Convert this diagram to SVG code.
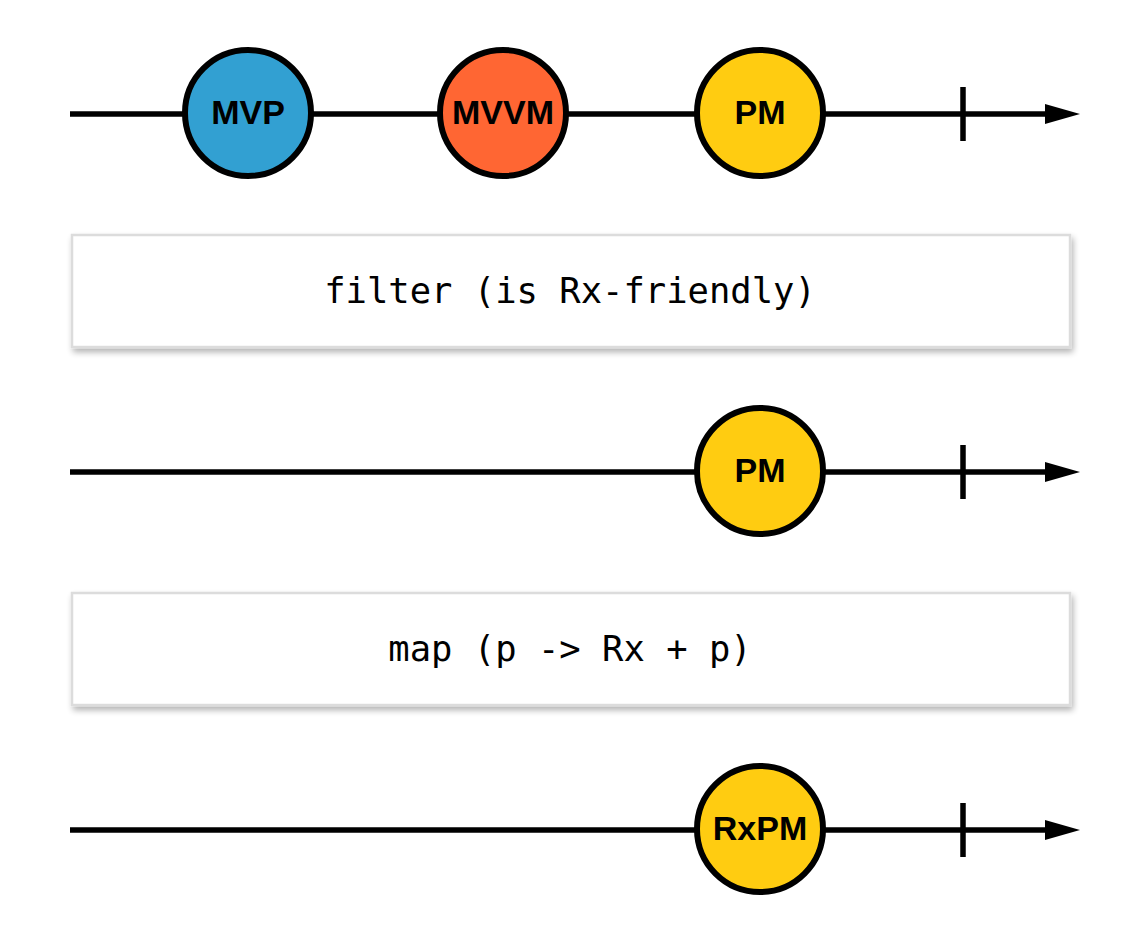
<svg xmlns="http://www.w3.org/2000/svg" width="1140" height="940" viewBox="0 0 1140 940">
<defs>
<filter id="sh" x="-5%" y="-20%" width="110%" height="150%">
<feGaussianBlur in="SourceAlpha" stdDeviation="3"/>
<feOffset dx="2" dy="4" result="b"/>
<feComponentTransfer><feFuncA type="linear" slope="0.3"/></feComponentTransfer>
<feMerge><feMergeNode/><feMergeNode in="SourceGraphic"/></feMerge>
</filter>
<marker id="arr" markerWidth="36" markerHeight="22" refX="1" refY="11" markerUnits="userSpaceOnUse" orient="auto">
<path d="M0,1 L35,11 L0,21 Z" fill="#000"/>
</marker>
</defs>
<style>
.line{stroke:#000;stroke-width:5.5;fill:none}
.tick{stroke:#000;stroke-width:5.5}
.m{stroke:#000;stroke-width:6}
.lbl{font-family:"Liberation Sans",Arial,sans-serif;font-weight:bold;font-size:34px;fill:#000;text-anchor:middle}
.op{fill:#fff;stroke:#dcdcdc;stroke-width:2.5;filter:url(#sh)}
.opt{font-family:"DejaVu Sans Mono",monospace;font-size:35.5px;fill:#000;text-anchor:middle}
</style>
<rect width="1140" height="940" fill="#fff"/>
<g id="connectors">
<line class="line" x1="70" y1="114" x2="1046" y2="114" marker-end="url(#arr)"/>
<line class="tick" x1="963" y1="87" x2="963" y2="141"/>
<line class="line" x1="70" y1="472" x2="1046" y2="472" marker-end="url(#arr)"/>
<line class="tick" x1="963" y1="445" x2="963" y2="499"/>
<line class="line" x1="70" y1="830" x2="1046" y2="830" marker-end="url(#arr)"/>
<line class="tick" x1="963" y1="803" x2="963" y2="857"/>
</g>
<g id="mvp"><circle class="m" cx="248" cy="113" r="63" fill="#32A0D2"/><text class="lbl" x="248" y="124">MVP</text></g>
<g id="mvvm"><circle class="m" cx="503" cy="113" r="63" fill="#FF6633"/><text class="lbl" x="503" y="124">MVVM</text></g>
<g id="pm1"><circle class="m" cx="760" cy="113" r="63" fill="#FFCC11"/><text class="lbl" x="760" y="124">PM</text></g>
<g id="filter"><rect class="op" x="72" y="235" width="998" height="112"/><text class="opt" x="570" y="303">filter (is Rx-friendly)</text></g>
<g id="pm2"><circle class="m" cx="760" cy="471" r="63" fill="#FFCC11"/><text class="lbl" x="760" y="482">PM</text></g>
<g id="map"><rect class="op" x="72" y="593" width="998" height="112"/><text class="opt" x="570" y="661">map (p -&gt; Rx + p)</text></g>
<g id="rxpm"><circle class="m" cx="760" cy="829" r="63" fill="#FFCC11"/><text class="lbl" x="760" y="840">RxPM</text></g>
</svg>
